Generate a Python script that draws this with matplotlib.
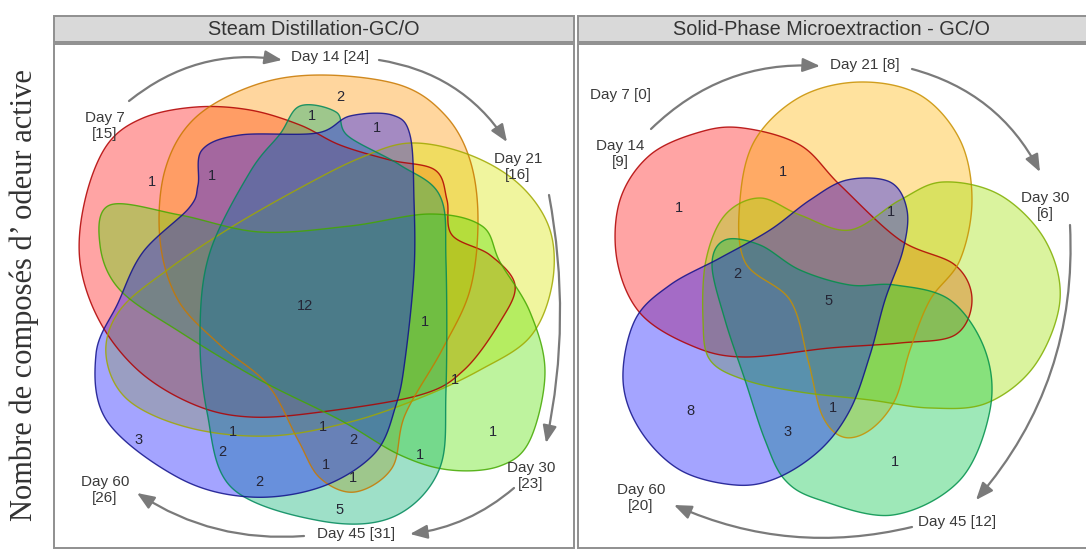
import numpy as np
import matplotlib
matplotlib.use("Agg")
import matplotlib.pyplot as plt
from matplotlib.patches import Polygon, Rectangle, FancyArrowPatch

# ---------------- data ----------------
panel_titles = ["Steam Distillation-GC/O", "Solid-Phase Microextraction - GC/O"]
y_label = "Nombre de composés d’ odeur active"

left_days = ["Day 7", "Day 14", "Day 21", "Day 30", "Day 45", "Day 60"]
left_totals = [15, 24, 16, 23, 31, 26]
left_counts = [2, 1, 1, 1, 1, 12, 1, 1, 1, 3, 1, 2, 1, 2, 1, 1, 2, 1, 5]

right_days = ["Day 7", "Day 14", "Day 21", "Day 30", "Day 45", "Day 60"]
right_totals = [0, 9, 8, 6, 12, 20]
right_counts = [1, 1, 1, 2, 5, 8, 3, 1, 1]

# ---------------- layout (pixel coordinates) ----------------
W, H = 1086, 549
left_count_pos = [(340, 97), (312, 116), (377, 128), (152, 182), (212, 176), (305, 306),
                  (425, 322), (455, 380), (493, 432), (139, 440), (233, 432), (222, 452),
                  (323, 427), (353, 440), (420, 455), (326, 465), (259, 482), (353, 478),
                  (340, 510)]
right_count_pos = [(679, 208), (783, 172), (891, 212), (737, 274), (829, 301), (690, 411),
                   (788, 432), (833, 408), (895, 462)]

# label position and whether the total goes on a second line (Day 7 first)
left_label_pos = [(105, 126, True), (330, 57, False), (518, 167, True),
                  (531, 476, True), (356, 534, False), (105, 490, True)]
right_label_pos = [(621, 95, False), (620, 154, True), (865, 65, False),
                   (1045, 206, True), (957, 522, False), (641, 498, True)]

left_colors = ["#ff1010", "#ff9400", "#d8e600", "#55e000", "#00b070", "#1010ff"]
left_edges = ["#b00000", "#c87800", "#a0a800", "#44a800", "#00885a", "#10108a"]
right_colors = ["#ff1010", "#ffb400", "#a0e000", "#00c445", "#1010ff"]
right_edges = ["#b00000", "#c89000", "#7fae00", "#00904a", "#10108a"]

left_shapes = [
    [(196, 107), (250, 110), (300, 125), (340, 145), (390, 160), (435, 170), (447, 200),
     (452, 235), (490, 255), (515, 285), (500, 322), (464, 370), (420, 395), (321, 412),
     (250, 417), (195, 405), (140, 372), (100, 322), (80, 262), (85, 200), (107, 145),
     (143, 118)],
    [(321, 75), (400, 85), (445, 115), (470, 160), (478, 220), (470, 290), (442, 350),
     (405, 415), (392, 468), (355, 492), (320, 478), (298, 440), (268, 385), (220, 345),
     (178, 300), (160, 240), (165, 170), (195, 118), (255, 85)],
    [(411, 143), (470, 155), (520, 185), (550, 230), (552, 285), (530, 337), (480, 370),
     (420, 398), (350, 422), (270, 436), (190, 428), (128, 400), (106, 355), (120, 310),
     (170, 268), (230, 228), (300, 188), (360, 158)],
    [(110, 205), (180, 215), (260, 232), (350, 226), (430, 214), (482, 226), (500, 262),
     (530, 312), (545, 372), (530, 440), (500, 466), (450, 470), (400, 455), (340, 420),
     (260, 380), (180, 332), (120, 290), (100, 245)],
    [(300, 106), (336, 112), (348, 136), (400, 165), (440, 196), (446, 262), (446, 390),
     (439, 470), (393, 517), (321, 521), (232, 488), (207, 412), (200, 330), (210, 252),
     (250, 172), (280, 134)],
    [(350, 116), (392, 115), (410, 135), (414, 200), (414, 272), (405, 360), (396, 405),
     (375, 453), (321, 487), (250, 497), (179, 478), (107, 421), (96, 354), (118, 303),
     (143, 252), (189, 208), (198, 185), (202, 150), (240, 135), (317, 133)],
]

right_shapes = [
    [(743, 128), (800, 145), (840, 185), (900, 240), (955, 265), (972, 300), (955, 335),
     (900, 343), (830, 348), (743, 357), (690, 345), (640, 313), (617, 260), (620, 200),
     (650, 155), (700, 132)],
    [(860, 82), (920, 95), (960, 140), (972, 200), (960, 260), (930, 300), (910, 350),
     (895, 400), (870, 430), (843, 437), (822, 415), (808, 360), (790, 300), (745, 262),
     (740, 200), (755, 140), (800, 97)],
    [(943, 182), (1000, 195), (1045, 240), (1060, 300), (1035, 365), (987, 403), (930, 408),
     (870, 400), (800, 392), (745, 380), (710, 360), (703, 320), (706, 260), (725, 215),
     (760, 198), (800, 215), (850, 230), (900, 200)],
    [(895, 285), (950, 300), (985, 350), (990, 410), (960, 480), (893, 515), (820, 500),
     (785, 480), (765, 440), (745, 380), (725, 320), (712, 265), (725, 240), (760, 245),
     (800, 270), (850, 285)],
    [(847, 180), (890, 182), (907, 210), (903, 250), (885, 300), (870, 355), (850, 410),
     (820, 450), (777, 478), (735, 485), (680, 470), (640, 430), (623, 380), (635, 320),
     (670, 285), (720, 258), (770, 230), (810, 200)],
]

left_arrows = [((129, 101), (282, 60), 0.22), ((379, 60), (507, 142), 0.22),
               ((549, 195), (546, 443), 0.10), ((514, 488), (410, 534), 0.15),
               ((304, 536), (137, 493), 0.17)]
right_arrows = [((651, 129), (820, 66), 0.22), ((912, 69), (1040, 172), 0.22),
                ((1070, 225), (976, 500), 0.2), ((912, 527), (674, 505), 0.17)]
left_center = (313, 300)
right_center = (840, 300)


def smooth_closed(pts, n=30):
    P = np.asarray(pts, float)
    N = len(P)
    t = np.linspace(0, 1, n, endpoint=False)[:, None]
    out = []
    for i in range(N):
        p0, p1, p2, p3 = P[i - 1], P[i], P[(i + 1) % N], P[(i + 2) % N]
        seg = 0.5 * ((2 * p1) + (-p0 + p2) * t + (2 * p0 - 5 * p1 + 4 * p2 - p3) * t ** 2
                     + (-p0 + 3 * p1 - 3 * p2 + p3) * t ** 3)
        out.append(seg)
    return np.vstack(out)


fig = plt.figure(figsize=(W / 100, H / 100), dpi=100)
ax = fig.add_axes([0, 0, 1, 1])
ax.set_xlim(0, W)
ax.set_ylim(H, 0)
ax.axis("off")

SANS = "Liberation Sans"

# panels
for x0, title in zip([54, 578], panel_titles):
    ax.add_patch(Rectangle((x0, 44), 520, 504, facecolor="white", edgecolor="#8f8f8f",
                           lw=1.4, zorder=0))
    ax.add_patch(Rectangle((x0, 16), 520, 26, facecolor="#d9d9d9", edgecolor="#8f8f8f",
                           lw=1.4, zorder=0))
    ax.text(x0 + 260 if x0 == 54 else x0 + 253, 29.5, title, ha="center", va="center",
            fontsize=14.3, family=SANS, color="#333333")


def draw_shapes(shapes, colors, edges):
    for pts, fc, ec in zip(shapes, colors, edges):
        xy = smooth_closed(pts)
        ax.add_patch(Polygon(xy, closed=True, facecolor=fc, alpha=0.38, edgecolor="none",
                             zorder=2))
        ax.add_patch(Polygon(xy, closed=True, facecolor="none", edgecolor=ec, alpha=0.85,
                             lw=1.0, zorder=3))


draw_shapes(left_shapes, left_colors, left_edges)
draw_shapes(right_shapes, right_colors, right_edges)

for (x, y), c in zip(left_count_pos, left_counts):
    ax.text(x, y, str(c), ha="center", va="center", fontsize=10.5, family=SANS,
            color="#252535", zorder=5)
for (x, y), c in zip(right_count_pos, right_counts):
    ax.text(x, y, str(c), ha="center", va="center", fontsize=10.5, family=SANS,
            color="#252535", zorder=5)


def day_labels(days, totals, layout):
    for d, n, (x, y, two) in zip(days, totals, layout):
        s = f"{d}\n[{n}]" if two else f"{d} [{n}]"
        ax.text(x, y, s, ha="center", va="center", fontsize=11, family=SANS,
                color="#3a3a3a", linespacing=1.2, zorder=5)


day_labels(left_days, left_totals, left_label_pos)
day_labels(right_days, right_totals, right_label_pos)


def arrows(specs, center):
    for p0, p1, r in specs:
        dx, dy = p1[0] - p0[0], p1[1] - p0[1]
        mid = ((p0[0] + p1[0]) / 2 - center[0], (p0[1] + p1[1]) / 2 - center[1])
        off = (-dy, dx)
        sgn = 1 if off[0] * mid[0] + off[1] * mid[1] > 0 else -1
        ax.add_patch(FancyArrowPatch(p0, p1, connectionstyle=f"arc3,rad={sgn * r}",
                                     arrowstyle="-|>,head_length=0.75,head_width=0.3",
                                     mutation_scale=14, color="#7a7a7a", lw=1.6,
                                     shrinkA=0, shrinkB=0, zorder=4))


arrows(left_arrows, left_center)
arrows(right_arrows, right_center)

ax.text(24, 295, y_label, rotation=90, ha="center", va="center", fontsize=22,
        family="Liberation Serif", color="#333333")

fig.savefig("out.png", dpi=100)
